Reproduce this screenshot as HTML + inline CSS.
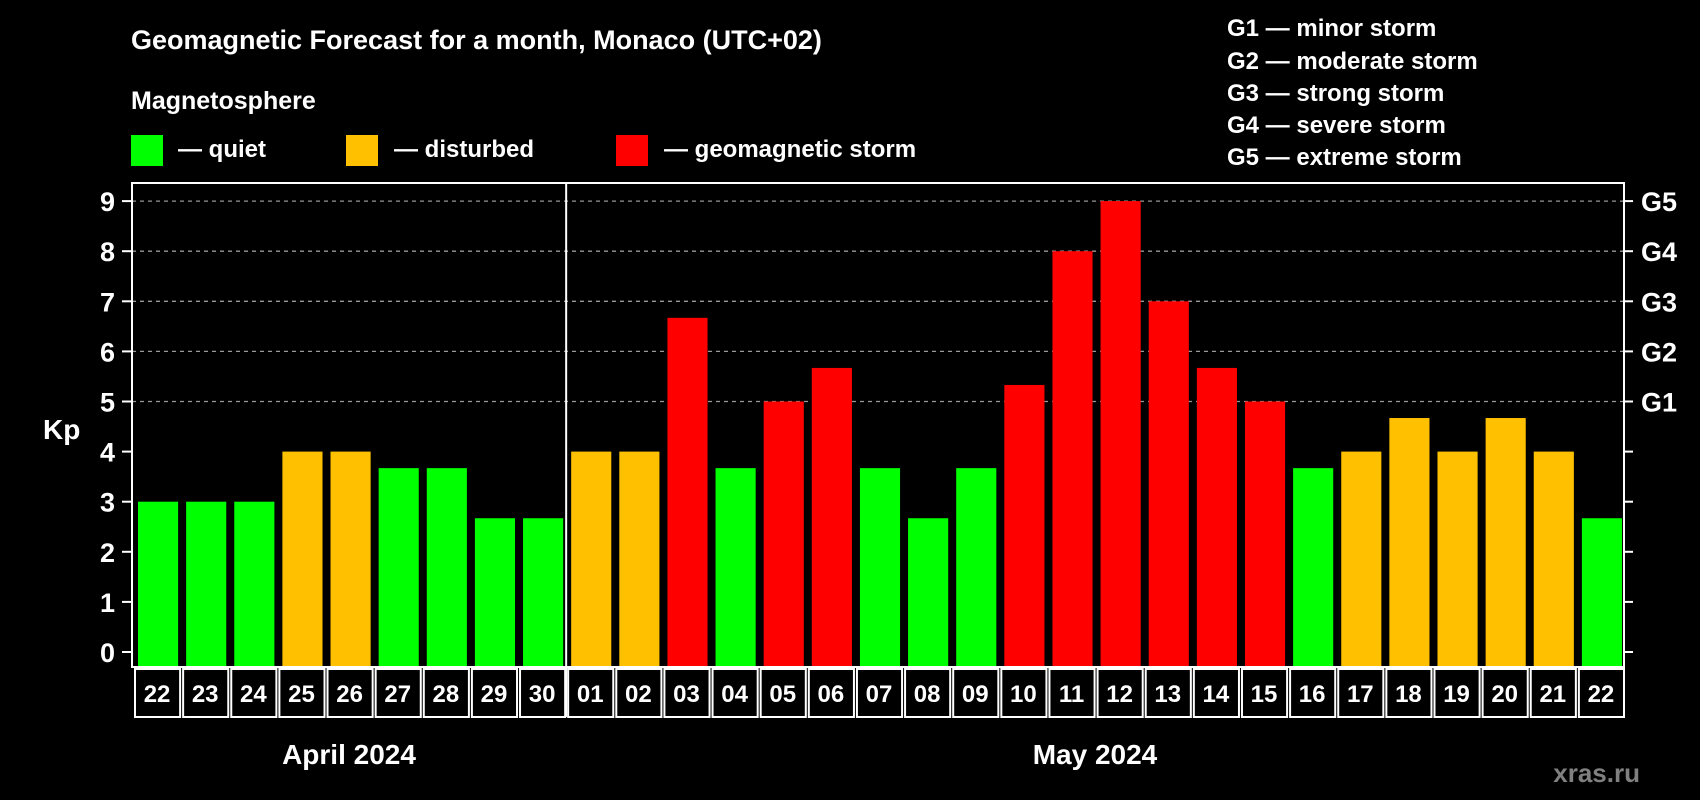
<!DOCTYPE html>
<html><head><meta charset="utf-8"><style>
html,body{margin:0;padding:0;background:#000;}
svg{display:block;font-family:"Liberation Sans",Arial,sans-serif;font-weight:bold;}
</style></head><body>
<svg id="chart" width="1700" height="800" viewBox="0 0 1700 800">
<text x="131" y="49" font-size="27" fill="#fff">Geomagnetic Forecast for a month, Monaco (UTC+02)</text>
<text x="131" y="109" font-size="25" fill="#fff">Magnetosphere</text>
<g><rect x="131" y="135" width="32" height="31" fill="#00ff00"/><text x="178" y="157" font-size="24" fill="#fff">— quiet</text></g>
<g><rect x="346" y="135" width="32" height="31" fill="#ffc000"/><text x="394" y="157" font-size="24" fill="#fff">— disturbed</text></g>
<g><rect x="616" y="135" width="32" height="31" fill="#ff0000"/><text x="664" y="157" font-size="24" fill="#fff">— geomagnetic storm</text></g>
<g font-size="24" fill="#fff">
<text x="1227" y="36">G1 — minor storm</text>
<text x="1227" y="69">G2 — moderate storm</text>
<text x="1227" y="101">G3 — strong storm</text>
<text x="1227" y="133">G4 — severe storm</text>
<text x="1227" y="165">G5 — extreme storm</text>
</g>
<text x="43" y="439" font-size="28" fill="#fff">Kp</text>
<g id="grid"></g><g id="bars"></g><g id="axes"></g>
<text x="349" y="764" font-size="28" fill="#fff" text-anchor="middle">April 2024</text>
<text x="1095" y="764" font-size="28" fill="#fff" text-anchor="middle">May 2024</text>
<text x="1640" y="782" font-size="26" fill="#808080" text-anchor="end">xras.ru</text>
</svg>
<script>
const days = ["22","23","24","25","26","27","28","29","30","01","02","03","04","05","06","07","08","09","10","11","12","13","14","15","16","17","18","19","20","21","22"];
const kpValues = [3,3,3,4,4,3.67,3.67,2.67,2.67,4,4,6.67,3.67,5,5.67,3.67,2.67,3.67,5.33,8,9,7,5.67,5,3.67,4,4.67,4,4.67,4,2.67];
const yTicks = [0,1,2,3,4,5,6,7,8,9];
const gLabels = ["G1","G2","G3","G4","G5"];
const NS="http://www.w3.org/2000/svg";
const L=132,R=1624,T=183,B=667,slot=(R-L)/days.length;
const y=v=>652-v*50.1;
const x=i=>L+i*slot;
function mk(tag,attrs,parent){const e=document.createElementNS(NS,tag);for(const k in attrs)e.setAttribute(k,attrs[k]);parent.appendChild(e);return e;}
const grid=document.getElementById('grid'),bars=document.getElementById('bars'),axes=document.getElementById('axes');
yTicks.forEach(v=>{
  if(v>=5){const g=mk('line',{x1:L,x2:R,y1:y(v),y2:y(v),stroke:'#999','stroke-width':1.3,'stroke-dasharray':'4 4'},grid);
  
  }
  const t=mk('line',{x1:L-10,x2:L,y1:y(v),y2:y(v),stroke:'#fff','stroke-width':2},axes);
  
  
  const t2=mk('line',{x1:R,x2:R+9,y1:y(v),y2:y(v),stroke:'#fff','stroke-width':2},axes);
  
  
  const lb=mk('text',{x:115,y:y(v)+10,'font-size':27,fill:'#fff','text-anchor':'end'},axes);lb.textContent=v;
  
  
});
gLabels.forEach((g,i)=>{const t=mk('text',{x:1641,y:y(5+i)+10,'font-size':27,fill:'#fff'},axes);t.textContent=g;
  
  });
kpValues.forEach((v,i)=>{
  const c=v>=5?'#ff0000':(v>=4?'#ffc000':'#00ff00');
  const r=mk('rect',{x:x(i)+6,y:y(v),width:slot-6-6+4,height:B-y(v),fill:c},bars);
  
  
  const bx=mk('rect',{x:x(i)+3,y:B+2,width:slot-3,height:48,fill:'none',stroke:'#fff','stroke-width':2},axes);
  
  
  const t=mk('text',{x:x(i)+slot/2+1,y:B+35,'font-size':24,fill:'#fff','text-anchor':'middle'},axes);t.textContent=days[i];
  
  
});
const fr=mk('rect',{x:L,y:T,width:R-L,height:B-T,fill:'none',stroke:'#fff','stroke-width':2},axes);


const sep=mk('line',{x1:x(9)+1,x2:x(9)+1,y1:T,y2:B+50,stroke:'#fff','stroke-width':2},axes);


</script>
</body></html>
